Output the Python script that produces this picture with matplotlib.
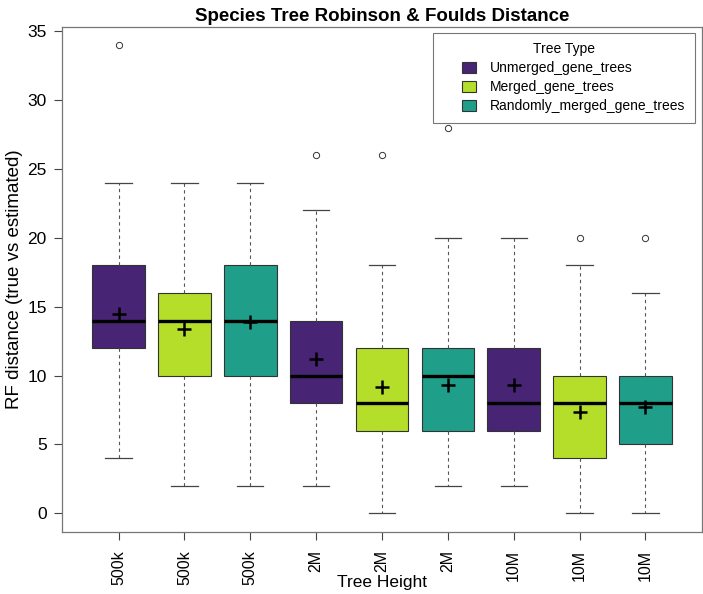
import numpy as np
import matplotlib.pyplot as plt
from matplotlib.patches import Patch, Rectangle
from matplotlib.legend_handler import HandlerPatch

plt.rcParams["font.family"] = ["Liberation Sans", "DejaVu Sans"]

# box statistics (R-style boxplot)
tick_labels = ["500k", "500k", "500k", "2M", "2M", "2M", "10M", "10M", "10M"]
tree_types = ["Unmerged_gene_trees", "Merged_gene_trees", "Randomly_merged_gene_trees"]
type_idx = [0, 1, 2, 0, 1, 2, 0, 1, 2]

whislo = [4, 2, 2, 2, 0, 2, 2, 0, 0]
q1 = [12, 10, 10, 8, 6, 6, 6, 4, 5]
med = [14, 14, 14, 10, 8, 10, 8, 8, 8]
q3 = [18, 16, 18, 14, 12, 12, 12, 10, 10]
whishi = [24, 24, 24, 22, 18, 20, 20, 18, 16]
means = [14.46, 13.4, 13.86, 11.2, 9.2, 9.3, 9.3, 7.35, 7.7]
fliers = [[34], [], [], [26], [26], [28], [], [20], [20]]

colors = ["#482475", "#b5de2b", "#1f9e89"]

stats = []
for i in range(len(tick_labels)):
    stats.append(dict(whislo=whislo[i], q1=q1[i], med=med[i], q3=q3[i],
                      whishi=whishi[i], fliers=fliers[i], label=tick_labels[i]))

fig = plt.figure(figsize=(7.03, 5.94), dpi=100)
ax = fig.add_axes([62 / 703, 62 / 594, 640 / 703, 505.5 / 594])

pos = np.arange(1, len(tick_labels) + 1)
bp = ax.bxp(stats, positions=pos, widths=0.8, patch_artist=True,
            showfliers=True,
            boxprops=dict(edgecolor="#333333", linewidth=0.8),
            medianprops=dict(color="black", linewidth=2.4, solid_capstyle="butt"),
            whiskerprops=dict(color="#555555", linestyle=(0, (3, 3)), linewidth=0.8),
            capprops=dict(color="#444444", linewidth=0.9),
            flierprops=dict(marker="o", markersize=4.5, markerfacecolor="none",
                            markeredgecolor="#333333", markeredgewidth=0.7))
for c in bp["caps"]:
    mid = np.mean(c.get_xdata())
    c.set_xdata([mid - 0.2, mid + 0.2])
for patch, t in zip(bp["boxes"], type_idx):
    patch.set_facecolor(colors[t])

ax.plot(pos, means, linestyle="none", marker="+", markersize=10,
        markeredgewidth=1.8, color="black", zorder=5)

ax.set_xlim(0.14, 9.86)
ax.set_ylim(-1.36, 35.36)
ax.set_yticks([0, 5, 10, 15, 20, 25, 30, 35])
ax.set_xticks(pos)
ax.set_xticklabels(tick_labels, rotation=90)
ax.tick_params(axis="both", direction="out", length=6, width=0.8, color="#444444",
               labelsize=12.5, pad=5)
ax.tick_params(axis="x", pad=7, labelsize=11.5)
for s in ax.spines.values():
    s.set_color("#777777")
    s.set_linewidth(0.9)

ax.set_xlabel("Tree Height", fontsize=12.5)
ax.xaxis.set_label_coords(0.5, -0.086)
ax.set_ylabel("RF distance (true vs estimated)", fontsize=13.5, labelpad=3)
ax.set_title("Species Tree Robinson & Foulds Distance", fontsize=13.5,
             fontweight="bold", pad=4)


def small_square(legend, orig_handle, xdescent, ydescent, width, height, fontsize):
    s = height * 1.0
    return Rectangle((xdescent + width - s * 1.2, -ydescent), s * 1.2, s)


handles = [Patch(facecolor=colors[k], edgecolor="#333333", linewidth=0.8)
           for k in range(3)]
leg = ax.legend(handles, tree_types, title="Tree Type", loc="upper right",
                bbox_to_anchor=(0.9885, 0.988), fontsize=10, title_fontsize=10,
                frameon=True, fancybox=False, handlelength=2.4, handleheight=0.85,
                handletextpad=1.0, borderpad=0.7, labelspacing=0.35,
                borderaxespad=0,
                handler_map={Patch: HandlerPatch(patch_func=small_square)})
leg.get_frame().set_edgecolor("#555555")
leg.get_frame().set_linewidth(0.8)

fig.savefig("out.png", dpi=100)
